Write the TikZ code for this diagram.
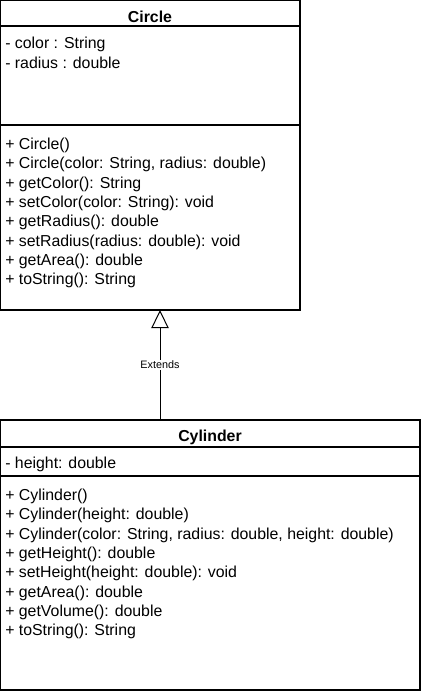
\documentclass[tikz,border=0pt]{standalone}
\usepackage{fontspec}
\setmainfont{Liberation Sans}
\usetikzlibrary{arrows.meta}
\begin{document}
\begin{tikzpicture}[x=0.75pt,y=-0.75pt,
  box/.style={draw=black,line width=1.1pt},
  sep/.style={draw=black,line width=0.9pt},
  member/.style={anchor=west,inner sep=0pt,font=\fontsize{11.9}{13}\selectfont},
  title/.style={inner sep=0pt,font=\fontsize{11.9}{13}\selectfont\bfseries},
  lbl/.style={fill=white,inner sep=1pt,font=\fontsize{8.1}{9}\selectfont},
  inherit/.style={draw=black,line width=0.75pt,-{Triangle[open,width=13pt,length=13.5pt]}}]
\useasboundingbox (0,0) rectangle (421,694);
% Circle class
\draw[box] (0.7,0.7) rectangle (300,310);
\coordinate (cbot) at (160,310);
\draw[sep] (0.7,26) -- (300,26);
\draw[sep] (0.7,125) -- (300,125);
\node[title] (ctitle) at (150,17) {Circle};
\node[member] (ca1) at (5,44) {- color : String};
\node[member] (ca2) at (5,63) {- radius : double};
\foreach \t [count=\i] in {{+ Circle()},{+ Circle(color: String, radius: double)},{+ getColor(): String},{+ setColor(color: String): void},{+ getRadius(): double},{+ setRadius(radius: double): void},{+ getArea(): double},{+ toString(): String}}
  \node[member] (cm\i) at (5,{145.5+(\i-1)*19.3}) {\t};
% Cylinder class
\draw[box] (0.7,420) rectangle (420,690);
\coordinate (ytop) at (160,420);
\draw[sep] (0.7,447) -- (420,447);
\draw[sep] (0.7,476) -- (420,476);
\node[title] (ytitle) at (210,437) {Cylinder};
\node[member] (ya1) at (5,464) {- height: double};
\foreach \t [count=\i] in {{+ Cylinder()},{+ Cylinder(height: double)},{+ Cylinder(color: String, radius: double, height: double)},{+ getHeight(): double},{+ setHeight(height: double): void},{+ getArea(): double},{+ getVolume(): double},{+ toString(): String}}
  \node[member] (ym\i) at (5,{496.5+(\i-1)*19.3}) {\t};
% Inheritance
\draw[inherit] (ytop) -- (cbot);
\node[lbl] (ext) at (160,365) {Extends};
\end{tikzpicture}
\end{document}
